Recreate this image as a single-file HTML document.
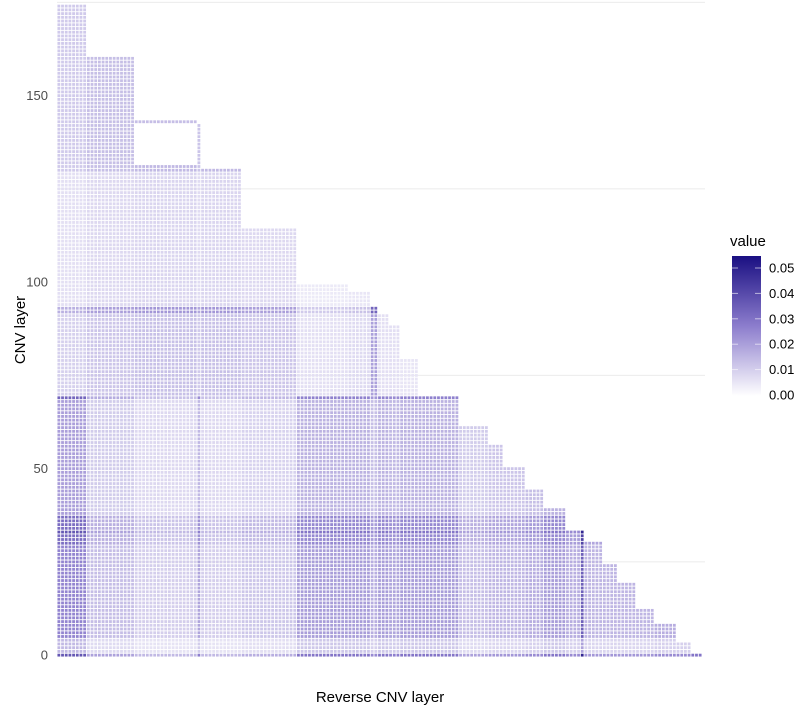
<!DOCTYPE html>
<html><head><meta charset="utf-8">
<style>
body{margin:0;background:#fff;font-family:"Liberation Sans",sans-serif;}
svg{display:block}
</style></head>
<body>
<svg id="chart" width="800" height="714" xmlns="http://www.w3.org/2000/svg">
<g id="grid"></g>
<g id="cells"></g>
<g id="yaxis"></g>
<text x="0" y="0" transform="translate(25,330) rotate(-90)" text-anchor="middle" font-size="15" fill="#000">CNV layer</text>
<text x="380" y="702" text-anchor="middle" font-size="15" fill="#000">Reverse CNV layer</text>
<g id="legend">
<defs><linearGradient id="lg" x1="0" y1="1" x2="0" y2="0">
<stop offset="0" stop-color="#ffffff"/><stop offset="0.5" stop-color="#8c7dcd"/><stop offset="1" stop-color="#1a0f82"/></linearGradient></defs>
<text x="730" y="246" font-size="15" fill="#000">value</text>
<rect x="732" y="256" width="29" height="140" fill="url(#lg)"/>
</g>
</svg>
<script>
// column groups: [startCol, endCol, topRow]
const colStart = [0,8,21,38,39,50,65,79,85,87,90,93,98,109,117,121,127,132,138,142,143,148,152,157,162,168,172];
const colEnd   = [8,21,38,39,50,65,79,85,87,90,93,98,109,117,121,127,132,138,142,143,148,152,157,162,168,172,175];
const colTop   = [175,161,132,143,131,115,100,98,94,92,89,80,70,62,57,51,45,40,34,34,31,25,20,13,9,4,1];
// column weights below / above row 70
const colWeightLow  = [0.75,0.4,0.3,0.55,0.3,0.35,0.6,0.6,0.5,0.6,0.55,0.6,0.6,0.4,0.45,0.45,0.5,0.6,0.5,1.0,0.45,0.45,0.45,0.45,0.5,0.5,0.6];
const colWeightHigh = [0.45,0.55,0.6,0.5,0.6,0.55,0.3,0.35,0.9,0.3,0.3,0.25,0.2,0.2,0.2,0.2,0.2,0.2,0.2,0.2,0.2,0.2,0.2,0.2,0.2,0.2,0.2];
// row bands
const rowStart  = [0,1,5,30,33,34,38,69,70,92,94,130];
const rowEnd    = [1,5,30,33,34,38,69,70,92,94,130,175];
const rowWeight = [1.0,0.4,0.7,0.85,1.0,0.85,0.55,0.9,0.45,0.75,0.3,0.5];
// extra single-row cells: [row, startCol, endCol]
const extraRow = [143]; const extraStart=[21]; const extraEnd=[38];
const maxValue = 0.055;
const yTicks = [0,50,100,150];
const yTickLabels = ["0","50","100","150"];
const gridRows = [25,75,125,175];

const NS="http://www.w3.org/2000/svg";
const x0=57, cw=645/175, y0=657, ch=3.73;
const xs=c=>x0+c*cw, ys=r=>y0-(r+1)*ch;
function color(v){const t=Math.min(1,v/maxValue);
 let a,b,u;
 if(t<0.5){a=[255,255,255];b=[140,125,205];u=t/0.5;}else{a=[140,125,205];b=[26,15,130];u=(t-0.5)/0.5;}
 const c=a.map((x,i)=>Math.round(x+(b[i]-x)*u));
 return `rgb(${c[0]},${c[1]},${c[2]})`;}
function rowW(r){for(let i=0;i<rowStart.length;i++) if(r>=rowStart[i]&&r<rowEnd[i]) return rowWeight[i]; return 0;}
const cells=document.getElementById('cells');
function addCell(c,r,v){
 const el=document.createElementNS(NS,'rect');
 
 
 el.setAttribute('x',(xs(c)+0.45).toFixed(2));el.setAttribute('y',(ys(r)+0.45).toFixed(2));
 el.setAttribute('width',(cw-0.9).toFixed(2));el.setAttribute('height',(ch-0.9).toFixed(2));
 el.setAttribute('fill',color(v));cells.appendChild(el);}
for(let g=0;g<colStart.length;g++){
 for(let c=colStart[g];c<colEnd[g];c++){
  for(let r=0;r<colTop[g];r++){
   const cwt=r<70?colWeightLow[g]:colWeightHigh[g];
   addCell(c,r,maxValue*rowW(r)*cwt*0.9);
  }}}
for(let i=0;i<extraRow.length;i++) for(let c=extraStart[i];c<extraEnd[i];c++) addCell(c,extraRow[i],maxValue*0.25);
// grid
const grid=document.getElementById('grid');
gridRows.forEach(r=>{const l=document.createElementNS(NS,'line');
 
 
 const y=y0-r*ch-ch/2; l.setAttribute('x1',57);l.setAttribute('x2',705);l.setAttribute('y1',y);l.setAttribute('y2',y);
 l.setAttribute('stroke','#ebebeb');l.setAttribute('stroke-width','1');grid.appendChild(l);});
const ya=document.getElementById('yaxis');
yTicks.forEach((t,i)=>{const tx=document.createElementNS(NS,'text');
 
 
 tx.setAttribute('x',48);tx.setAttribute('y',y0-t*ch-ch/2+4.5);tx.setAttribute('text-anchor','end');
 tx.setAttribute('font-size','13');tx.setAttribute('fill','#4d4d4d');tx.textContent=yTickLabels[i];ya.appendChild(tx);});
// legend ticks
const legTicks=[0,0.01,0.02,0.03,0.04,0.05];
const legY=v=>395-v/0.01*25.4;
const lg=document.getElementById('legend');
legTicks.forEach(v=>{const y=legY(v);
 [[732,738],[755,761]].forEach(p=>{const l=document.createElementNS(NS,'line');
  
  
  l.setAttribute('x1',p[0]);l.setAttribute('x2',p[1]);l.setAttribute('y1',y);l.setAttribute('y2',y);
  l.setAttribute('stroke','#fff');l.setAttribute('stroke-opacity','0.6');lg.appendChild(l);});
 const tx=document.createElementNS(NS,'text');
 
 
 tx.setAttribute('x',769);tx.setAttribute('y',y+4.5);tx.setAttribute('font-size','13');tx.setAttribute('fill','#000');
 tx.textContent=v.toFixed(2);lg.appendChild(tx);});
</script>
</body></html>
